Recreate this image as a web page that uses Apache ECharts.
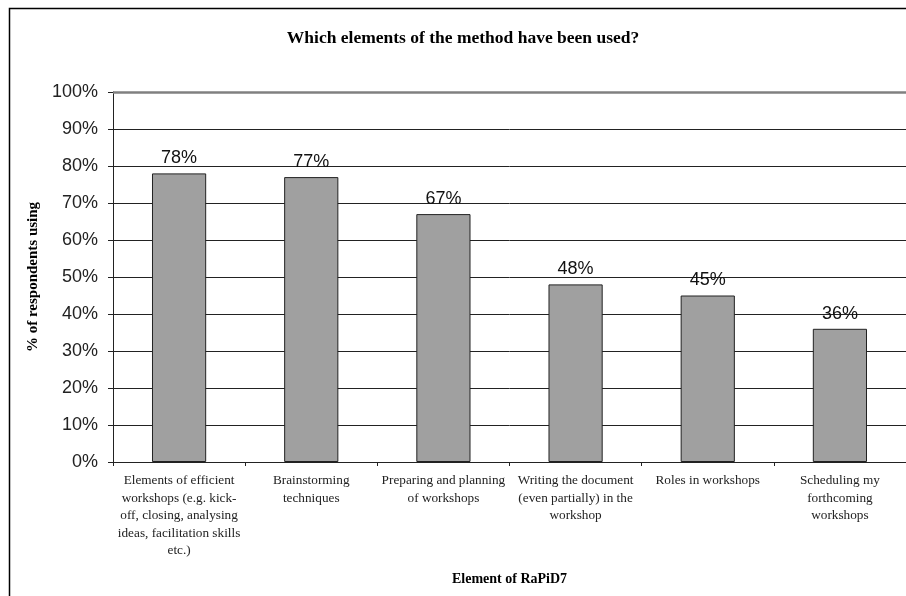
<!DOCTYPE html>
<html>
<head>
<meta charset="utf-8">
<script src="https://cdn.jsdelivr.net/npm/echarts@6/dist/echarts.min.js"></script>
<style>
  html, body { margin: 0; padding: 0; background: #fff; }
  #chart { width: 906px; height: 596px; }
</style>
</head>
<body>
<div id="chart"></div>
<script>
// Survey results: share of respondents using each RaPiD7 element
const categories = [
  'Elements of efficient\nworkshops (e.g. kick-\noff, closing, analysing\nideas, facilitation skills\netc.)',
  'Brainstorming\ntechniques',
  'Preparing and planning\nof workshops',
  'Writing the document\n(even partially) in the\nworkshop',
  'Roles in workshops',
  'Scheduling my\nforthcoming\nworkshops'
];
const usagePercent = [78, 77, 67, 48, 45, 36];
const yTicks = { min: 0, max: 100, step: 10 };

// gridline colours: dark for the inner lines, grey for the top edge
const gridColors = [];
for (let v = yTicks.min; v <= yTicks.max; v += yTicks.step) {
  gridColors.push(v === yTicks.max ? '#808080' : '#222');
}

const chart = echarts.init(document.getElementById('chart'));
chart.setOption({
  animation: false,
  backgroundColor: '#ffffff',
  graphic: [{
    type: 'rect',
    left: 7, top: 6,
    shape: { width: 906, height: 600 },
    style: { fill: 'none', stroke: '#000', lineWidth: 1.5 },
    silent: true
  }, {
    type: 'text',
    x: 463, y: 38,
    style: {
      text: 'Which elements of the method have been used?',
      align: 'center',
      verticalAlign: 'middle',
      font: 'bold 17.5px "Liberation Serif"',
      fill: '#000'
    },
    silent: true
  }],
  grid: { left: 113, right: -2, top: 92, bottom: 134 },
  xAxis: {
    type: 'category',
    data: categories,
    name: 'Element of RaPiD7',
    nameLocation: 'middle',
    nameGap: 110,
    nameTextStyle: {
      fontFamily: 'Liberation Serif', fontWeight: 'bold', fontSize: 14, color: '#000'
    },
    axisLine: { lineStyle: { color: '#222', width: 1 } },
    axisTick: { show: true, length: 4, lineStyle: { color: '#222' } },
    axisLabel: {
      interval: 0,
      margin: 10,
      fontFamily: 'Liberation Serif',
      fontSize: 13.25,
      lineHeight: 17.5,
      color: '#222',
      align: 'center'
    }
  },
  yAxis: {
    type: 'value',
    min: yTicks.min,
    max: yTicks.max,
    interval: yTicks.step,
    name: '% of respondents using',
    nameLocation: 'middle',
    nameRotate: 90,
    nameGap: 71,
    nameTextStyle: {
      fontFamily: 'Liberation Serif', fontWeight: 'bold', fontSize: 15, color: '#000'
    },
    axisLine: { show: true, lineStyle: { color: '#222', width: 1 } },
    axisTick: { show: true, length: 5, lineStyle: { color: '#222' } },
    axisLabel: {
      formatter: '{value}%',
      margin: 15,
      fontFamily: 'Liberation Sans',
      fontSize: 18,
      color: '#222'
    },
    splitLine: { show: true, lineStyle: { color: gridColors, width: 1 } }
  },
  series: [{
    type: 'bar',
    data: usagePercent,
    barWidth: '41%',
    itemStyle: { color: '#a0a0a0', borderColor: '#222', borderWidth: 1 },
    label: {
      show: true,
      position: 'top',
      distance: 6,
      formatter: '{c}%',
      fontFamily: 'Liberation Sans',
      fontSize: 18,
      color: '#111'
    },
    markLine: {
      silent: true,
      symbol: 'none',
      label: { show: false },
      lineStyle: { color: '#808080', width: 2.5, type: 'solid' },
      data: [{ yAxis: yTicks.max }]
    }
  }]
});
</script>
</body>
</html>
